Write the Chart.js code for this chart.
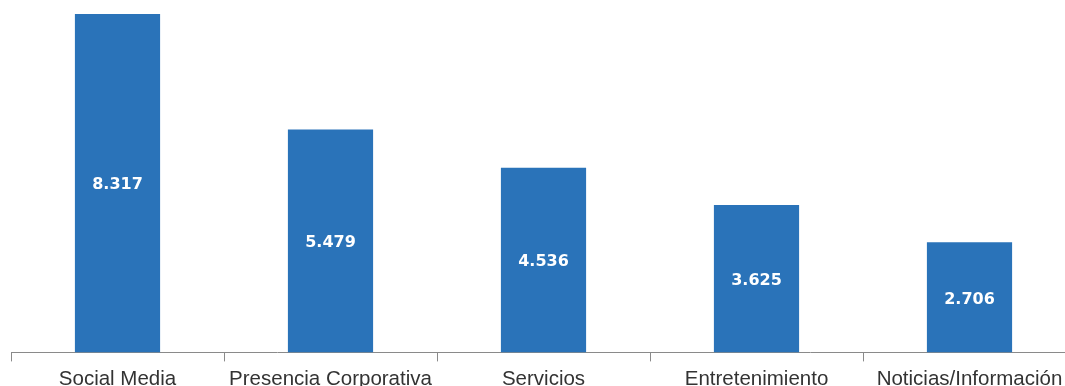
<!DOCTYPE html>
<html>
<head>
<meta charset="utf-8">
<script src="https://cdn.jsdelivr.net/npm/chart.js@4"></script>
<style>
  html, body { margin: 0; padding: 0; background: #fff; overflow: hidden; }
  .wrap { position: relative; width: 1080px; height: 398px; }
</style>
</head>
<body>
<div class="wrap"><canvas class="bar-chart"></canvas></div>
<script>
var categorias = ["Social Media", "Presencia Corporativa", "Servicios", "Entretenimiento", "Noticias/Información"];
var valores = [8317, 5479, 4536, 3625, 2706];

var azul = '#2a73b9';

// 8317 -> "8.317"
function formatar(v) {
    return String(v).replace(/\B(?=(\d{3})+(?!\d))/g, '.');
}

// escreve o valor no meio de cada barra
var rotulosBarras = {
    id: 'rotulosBarras',
    afterDatasetsDraw: function(chart) {
        var ctx = chart.ctx;
        var meta = chart.getDatasetMeta(0);
        ctx.save();
        ctx.fillStyle = '#ffffff';
        ctx.font = 'bold 16px "DejaVu Sans"';
        ctx.textAlign = 'center';
        ctx.textBaseline = 'middle';
        meta.data.forEach(function(bar, i) {
            ctx.fillText(formatar(valores[i]), bar.x, (bar.y + bar.base) / 2 + 2);
        });
        ctx.restore();
    }
};

var context1 = document.getElementsByClassName("bar-chart");

var chartGraph1 = new Chart(context1, {
    type: 'bar',
    data: {
        labels: categorias,
        datasets: [{
            data: valores,
            backgroundColor: azul,
            borderWidth: 0,
            barPercentage: 0.4,
            categoryPercentage: 1
        }]
    },
    options: {
        responsive: true,
        maintainAspectRatio: false,
        animation: false,
        layout: {
            padding: { left: 11, right: 4, top: 0, bottom: 0 }
        },
        plugins: {
            legend: { display: false },
            tooltip: { enabled: false }
        },
        scales: {
            x: {
                offset: true,
                grid: {
                    offset: true,
                    drawOnChartArea: false,
                    tickLength: 9,
                    color: '#8a8a8a'
                },
                border: { color: '#8a8a8a' },
                ticks: {
                    color: '#333333',
                    padding: 6,
                    maxRotation: 0,
                    autoSkip: false,
                    font: { family: '"Liberation Sans", Arial', size: 20.5 }
                }
            },
            y: {
                display: false,
                min: 0,
                max: 8661
            }
        }
    },
    plugins: [rotulosBarras]
});
</script>
</body>
</html>
